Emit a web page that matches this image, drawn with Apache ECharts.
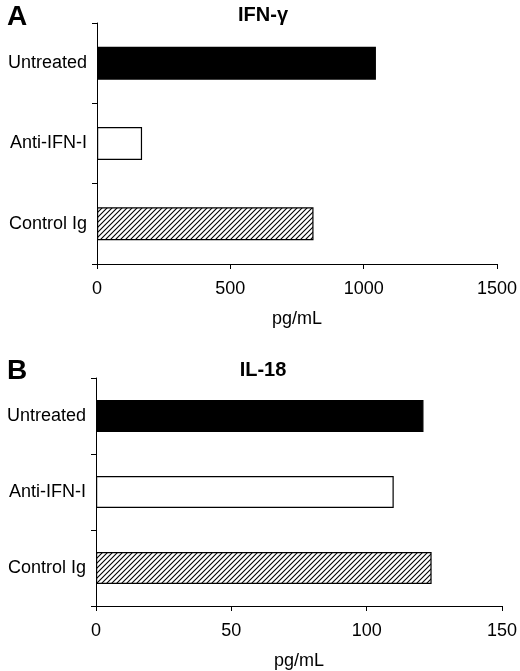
<!DOCTYPE html>
<html><head><meta charset="utf-8">
<script src="https://cdn.jsdelivr.net/npm/echarts@6/dist/echarts.min.js"></script>
<style>html,body{margin:0;padding:0;background:#fff}#c{width:520px;height:671px}</style>
</head><body><div id="c"></div>
<script>
const categories = ['Untreated', 'Anti-IFN-I', 'Control Ig'];
const ifnValues = [1046, 169, 812];
const il18Values = [121, 110, 124];
const ifnTicks = [0, 500, 1000, 1500];
const il18Ticks = [0, 50, 100, 150];

const pc = document.createElement('canvas');
pc.width = 5; pc.height = 5;
const g = pc.getContext('2d');
g.fillStyle = '#fff'; g.fillRect(0,0,5,5);
g.strokeStyle = '#000'; g.lineWidth = 1.1;
g.beginPath();
g.moveTo(-1,6); g.lineTo(6,-1);
g.moveTo(-1,1); g.lineTo(1,-1);
g.moveTo(4,6); g.lineTo(6,4);
g.stroke();
const hatch = {image: pc, repeat: 'repeat'};
const fills = ['#000', '#fff', hatch];

const font = 'Liberation Sans, Arial, sans-serif';
function mkData(vals){ return vals.map((v,i)=>({value:v, itemStyle:{color:fills[i], borderColor:'#000', borderWidth:1.2}})); }
function yAx(gi){ return {type:'category', gridIndex:gi, data:categories, inverse:true,
  axisLine:{lineStyle:{color:'#000', width:1}}, axisTick:{show:true, interval:0, alignWithLabel:false, length:5, lineStyle:{color:'#000'}},
  axisLabel:{color:'#000', fontSize:18, fontFamily:font, margin:10}}; }
function xAx(gi, max, interval){ return {type:'value', gridIndex:gi, min:0, max:max, interval:interval,
  splitLine:{show:false}, axisLine:{show:true, lineStyle:{color:'#000'}}, axisTick:{show:true, length:5, lineStyle:{color:'#000'}},
  axisLabel:{color:'#000', fontSize:18, fontFamily:font, margin:16, formatter:v=>String(v)},
  name:'pg/mL', nameLocation:'middle', nameGap:46, nameTextStyle:{color:'#000', fontSize:18, fontFamily:font}}; }

const chart = echarts.init(document.getElementById('c'));
chart.setOption({
  animation:false,
  title:[
    {text:'A', left:2, top:-2, textStyle:{fontSize:28, fontWeight:'bold', fontFamily:font, color:'#000'}},
    {text:'IFN-γ', left:258, textAlign:'center', top:0, textStyle:{fontSize:20, fontWeight:'bold', fontFamily:font, color:'#000'}},
    {text:'B', left:2, top:352, textStyle:{fontSize:28, fontWeight:'bold', fontFamily:font, color:'#000'}},
    {text:'IL-18', left:258, textAlign:'center', top:355, textStyle:{fontSize:20, fontWeight:'bold', fontFamily:font, color:'#000'}}
  ],
  grid:[
    {left:97, right:23, top:23, height:241},
    {left:96, right:17, top:378, height:229}
  ],
  xAxis:[xAx(0, ifnTicks[ifnTicks.length-1], ifnTicks[1]-ifnTicks[0]), xAx(1, il18Ticks[il18Ticks.length-1], il18Ticks[1]-il18Ticks[0])],
  yAxis:[yAx(0), yAx(1)],
  series:[
    {type:'bar', xAxisIndex:0, yAxisIndex:0, data:mkData(ifnValues), barWidth:'41%'},
    {type:'bar', xAxisIndex:1, yAxisIndex:1, data:mkData(il18Values), barWidth:'42%'}
  ]
});
</script></body></html>
